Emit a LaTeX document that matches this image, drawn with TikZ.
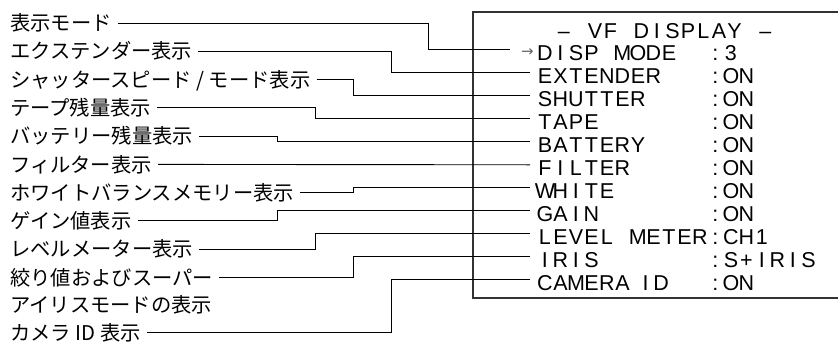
\documentclass[tikz,border=0pt]{standalone}
\usepackage{fontspec}
\setmainfont{Liberation Sans}
\newfontfamily\cjk{Noto Sans CJK JP}
\newfontfamily\djv{DejaVu Sans}
\newlength\cw
\setlength\cw{15.5pt}
\let\gridend\relax
\def\gridtext#1{\gridloop#1\gridend}
\def\gridloop#1{\ifx\gridend#1\else\makebox[\cw][c]{#1}\expandafter\gridloop\fi}
\begin{document}
\begin{tikzpicture}[x=1pt,y=-1pt,
  lbl/.style={anchor=west, inner sep=0pt, font=\cjk\fontsize{20.3}{24}\selectfont, text height=16.8pt, text depth=1.4pt},
  mono/.style={anchor=base west, inner sep=0pt, font=\fontsize{21.5}{26}\selectfont},
  conn/.style={line width=0.9pt, black},
  frame/.style={line width=1.3pt, black!80}]
\useasboundingbox (0,0) rectangle (838,342);
% frame of the display
\draw[frame] (838,12) -- (473,12) -- (473,298) -- (838,298);
% left labels
\node[lbl] (l0) at (10,23.0) {表示モード};
\node[lbl] (l1) at (10,51.3) {エクステンダー表示};
\node[lbl] (l2) at (10,79.5) {シャッタースピード / モード表示};
\node[lbl] (l3) at (10,107.8) {テープ残量表示};
\node[lbl] (l4) at (10,136.1) {バッテリー残量表示};
\node[lbl] (l5) at (10,164.4) {フィルター表示};
\node[lbl] (l6) at (10,192.6) {ホワイトバランスメモリー表示};
\node[lbl] (l7) at (10,220.9) {ゲイン値表示};
\node[lbl] (l8) at (10,249.2) {レベルメーター表示};
\node[lbl] (l9) at (10,277.4) {絞り値およびスーパー};
\node[lbl] (l10) at (10,305.2) {アイリスモードの表示};
\node[lbl] (l11) at (10,332.5) {カメラ ID 表示};
% display text
\node[mono] (t) at (556,38.7) {\gridtext{–~VF~DISPLAY~–}};
\node[anchor=east, inner sep=0pt, font=\djv\fontsize{15}{15}\selectfont, text=black!60] (ar) at (534,53) {→};
\node[mono] (n0) at (537,60.7) {\gridtext{DISP~MODE}};
\node[mono] (n1) at (537,83.7) {\gridtext{EXTENDER}};
\node[mono] (n2) at (537,106.7) {\gridtext{SHUTTER}};
\node[mono] (n3) at (537,129.7) {\gridtext{TAPE}};
\node[mono] (n4) at (537,152.7) {\gridtext{BATTERY}};
\node[mono] (n5) at (537,175.7) {\gridtext{FILTER}};
\node[mono] (n6) at (537,198.7) {\gridtext{WHITE}};
\node[mono] (n7) at (537,221.7) {\gridtext{GAIN}};
\node[mono] (n8) at (537,244.7) {\gridtext{LEVEL~METER}};
\node[mono] (n9) at (537,267.7) {\gridtext{IRIS}};
\node[mono] (n10) at (537,290.7) {\gridtext{CAMERA}\hspace*{7.75pt}\gridtext{ID}};
\node[mono] (v0) at (707.5,60.7) {\gridtext{:3}};
\node[mono] (v1) at (707.5,83.7) {\gridtext{:ON}};
\node[mono] (v2) at (707.5,106.7) {\gridtext{:ON}};
\node[mono] (v3) at (707.5,129.7) {\gridtext{:ON}};
\node[mono] (v4) at (707.5,152.7) {\gridtext{:ON}};
\node[mono] (v5) at (707.5,175.7) {\gridtext{:ON}};
\node[mono] (v6) at (707.5,198.7) {\gridtext{:ON}};
\node[mono] (v7) at (707.5,221.7) {\gridtext{:ON}};
\node[mono] (v8) at (707.5,244.7) {\gridtext{:CH1}};
\node[mono] (v9) at (707.5,267.7) {\gridtext{:S+IRIS}};
\node[mono] (v10) at (707.5,290.7) {\gridtext{:ON}};
% connector end points
\coordinate (r0) at ([shift={(-27pt,3.5pt)}]n0.west);
\coordinate (r1) at ([shift={(-7pt,3.5pt)}]n1.west);
\coordinate (r2) at ([shift={(-7pt,3.5pt)}]n2.west);
\coordinate (r3) at ([shift={(-7pt,3.5pt)}]n3.west);
\coordinate (r4) at ([shift={(-7pt,3.5pt)}]n4.west);
\coordinate (r5) at ([shift={(-7pt,3.5pt)}]n5.west);
\coordinate (r6) at ([shift={(-7pt,3.5pt)}]n6.west);
\coordinate (r7) at ([shift={(-7pt,3.5pt)}]n7.west);
\coordinate (r8) at ([shift={(-7pt,3.5pt)}]n8.west);
\coordinate (r9) at ([shift={(-7pt,3.5pt)}]n9.west);
\coordinate (r10) at ([shift={(-7pt,3.5pt)}]n10.west);
% elbow columns
\coordinate (e1) at (428,0);
\coordinate (e2) at (391,0);
\coordinate (e3) at (353,0);
\coordinate (e4) at (315,0);
\coordinate (e5) at (277,0);
% connectors
\draw[conn] ([xshift=6pt]l0.east) -| (e1 |- r0) -- (r0);
\draw[conn] ([xshift=6pt]l1.east) -| (e2 |- r1) -- (r1);
\draw[conn] ([xshift=6pt]l2.east) -| (e3 |- r2) -- (r2);
\draw[conn] ([xshift=6pt]l3.east) -| (e4 |- r3) -- (r3);
\draw[conn] ([xshift=6pt]l4.east) -| (e5 |- r4) -- (r4);
\draw[conn] ([xshift=6pt]l5.east) -- (r5);
\draw[conn] ([xshift=6pt]l6.east) -| (e3 |- r6) -- (r6);
\draw[conn] ([xshift=6pt]l7.east) -| (e5 |- r7) -- (r7);
\draw[conn] ([xshift=6pt]l8.east) -| (e4 |- r8) -- (r8);
\draw[conn] ([xshift=6pt]l9.east) -| (e3 |- r9) -- (r9);
\draw[conn] ([xshift=6pt]l11.east) -| (e2 |- r10) -- (r10);
\end{tikzpicture}
\end{document}
